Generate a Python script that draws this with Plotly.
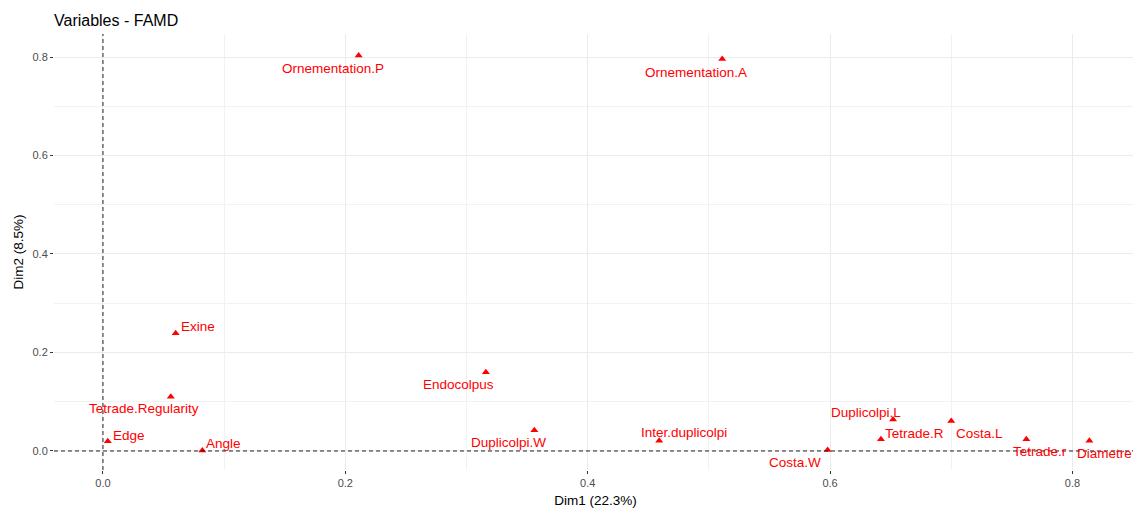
import plotly.graph_objects as go

# Data
names = ["Ornementation.P", "Ornementation.A", "Exine", "Tetrade.Regularity", "Edge", "Angle",
         "Endocolpus", "Duplicolpi.W", "Inter.duplicolpi", "Costa.W", "Duplicolpi.L", "Tetrade.R",
         "Costa.L", "Tetrade.r", "Diametre"]
dim1 = [0.211, 0.511, 0.060, 0.056, 0.004, 0.082,
        0.316, 0.356, 0.459, 0.598, 0.652, 0.642,
        0.700, 0.762, 0.814]
dim2 = [0.803, 0.796, 0.239, 0.110, 0.020, 0.001,
        0.160, 0.042, 0.021, 0.002, 0.064, 0.024,
        0.061, 0.024, 0.021]

# label offsets in pixels (style only)
label_dx = [-26, -26, 22, -27, 21, 21, -27, -26, 25, -33, -27, 34, 28, 14, 15]
label_dy = [13, 14, -7, 12, -6, -7, 12, 12, -8, 12, -7, -6, 13, 12, 13]

FONT = "Liberation Sans, Arial"
red = "#FF0000"
fig = go.Figure()
fig.add_trace(go.Scatter(x=dim1, y=dim2, mode="markers",
                         marker=dict(symbol="triangle-up", size=7, color=red),
                         hovertext=names, showlegend=False))

for n, x, y, dx, dy in zip(names, dim1, dim2, label_dx, label_dy):
    fig.add_annotation(x=x, y=y, xref="x", yref="y", text=n, showarrow=False,
                       xshift=dx, yshift=-dy, font=dict(family=FONT, size=13.5, color=red),
                       xanchor="center", yanchor="middle")

fig.add_shape(type="line", xref="x", yref="paper", x0=0, x1=0, y0=0, y1=1,
              line=dict(color="#222222", width=1, dash="4px,3px"))
fig.add_shape(type="line", xref="paper", yref="y", x0=0, x1=1, y0=0, y1=0,
              line=dict(color="#222222", width=1, dash="4px,3px"))

axis_common = dict(showgrid=True, gridcolor="#EBEBEB", gridwidth=1, zeroline=False,
                   showline=False, ticks="outside", ticklen=3, tickcolor="#333333",
                   tickfont=dict(family=FONT, size=11, color="#4D4D4D"),
                   tickformat=".1f", automargin=False)

fig.update_xaxes(range=[-0.0404, 0.8533], tick0=0, dtick=0.2,
                 minor=dict(showgrid=True, gridcolor="#F2F2F2", dtick=0.1, tick0=0),
                 title=dict(text="Dim1 (22.3%)", standoff=7,
                            font=dict(family=FONT, size=13.5, color="black")),
                 **axis_common)
fig.update_yaxes(range=[-0.0386, 0.8467], tick0=0, dtick=0.2,
                 minor=dict(showgrid=True, gridcolor="#F2F2F2", dtick=0.1, tick0=0),
                 title=dict(text="Dim2 (8.5%)", standoff=5,
                            font=dict(family=FONT, size=13.5, color="black")),
                 **axis_common)

# page body adds an 8px offset; margins compensate for it
fig.update_layout(
    width=1141, height=508,
    paper_bgcolor="white", plot_bgcolor="white",
    margin=dict(l=46, r=12, t=26, b=46),
    title=dict(text="Variables - FAMD", x=46/1141, xanchor="left", xref="container",
               y=1-12/508, yref="container", yanchor="middle",
               font=dict(family=FONT, size=16, color="black")),
)

fig.write_html("out.html")
